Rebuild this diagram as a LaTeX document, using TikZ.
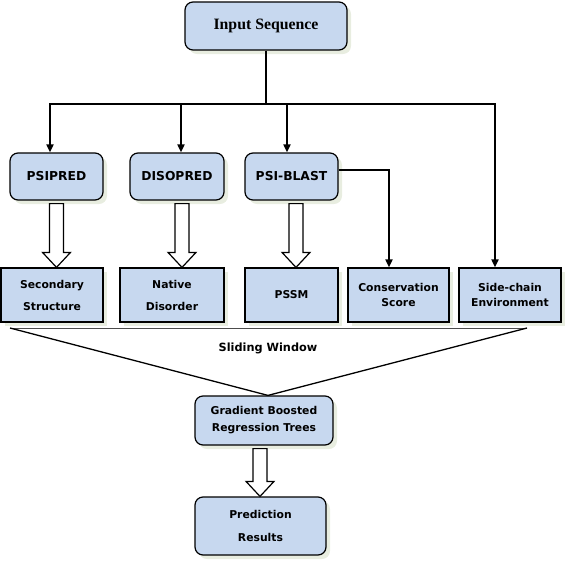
\documentclass[tikz,border=0pt]{standalone}
\usepackage{fontspec}
\setmainfont{DejaVu Sans}
\newfontfamily\titlefont{Liberation Serif}
\usepackage{tikz}
\usetikzlibrary{arrows.meta,positioning,calc,shadows}

\definecolor{boxblue}{RGB}{199,216,239}
\definecolor{shade}{RGB}{232,237,224}

% hollow block arrow from the bottom of one node to the top of another
\newcommand{\fatarrow}[3][0]{%
  \draw[hollow] let \p1=([xshift=#1pt]#2.south), \p2=(#3.north) in
    (\x1-7pt,\y1-3pt) -- (\x1-7pt,\y2+15pt) -- (\x1-14pt,\y2+15pt) -- (\x1,\y2)
    -- (\x1+14pt,\y2+15pt) -- (\x1+7pt,\y2+15pt) -- (\x1+7pt,\y1-3pt) -- cycle;}

\begin{document}
\begin{tikzpicture}[x=1pt, y=-1pt,
    base/.style={rectangle, draw, line width=1.2pt, fill=boxblue, align=center, inner sep=2pt,
      drop shadow={fill=shade, shadow xshift=4pt, shadow yshift=-4pt, opacity=1}},
    tool/.style={base, rounded corners=8pt, font=\bfseries\fontsize{12.3}{14}\selectfont},
    feature/.style={base, font=\bfseries\fontsize{10.8}{15}\selectfont},
    widefeature/.style={feature, font=\bfseries\fontsize{10.8}{22}\selectfont},
    bus/.style={line width=1.8pt},
    arrow/.style={bus, -{Triangle[length=8pt,width=7pt]}},
    hollow/.style={draw, fill=white, line width=1.2pt, line join=miter}
]
    \useasboundingbox (0,0) rectangle (568,563);

    \node[tool, minimum width=162pt, minimum height=48pt, font=\titlefont\bfseries\fontsize{15.8}{18}\selectfont] (input) at (266,26) {Input Sequence};

    \node[tool, minimum width=93pt, minimum height=47pt] (psipred) at (56.5,176.5) {PSIPRED};
    \node[tool, minimum width=94pt, minimum height=47pt] (disopred) at (177,176.5) {DISOPRED};
    \node[tool, minimum width=93pt, minimum height=47pt] (psiblast) at (291.5,176.5) {PSI-BLAST};

    \node[widefeature, minimum width=102pt, minimum height=54pt] (secstr) at (52,295) {Secondary\\Structure};
    \node[widefeature, minimum width=104pt, minimum height=54pt] (disorder) at (172,295) {Native\\Disorder};
    \node[feature, minimum width=93pt, minimum height=54pt] (pssm) at (291.5,295) {PSSM};
    \node[feature, minimum width=101pt, minimum height=54pt] (cons) at (398.5,295) {Conservation\\Score};
    \node[feature, minimum width=102pt, minimum height=54pt] (side) at (510,295) {Side-chain\\Environment};

    \node[tool, minimum width=138pt, minimum height=49pt, font=\bfseries\fontsize{10.8}{17}\selectfont] (gbrt) at (264,420.5) {Gradient Boosted\\Regression Trees};
    \node[tool, minimum width=131pt, minimum height=58pt, font=\bfseries\fontsize{10.8}{23}\selectfont] (result) at (260.5,526) {Prediction\\Results};

    % input sequence fans out to the tools
    \coordinate (bus) at (266,104);
    \draw[bus] (input.south) -- (bus);
    \draw[arrow] (bus) -| ([xshift=-6.5pt]psipred.north);
    \draw[arrow] (bus) -| ([xshift=4pt]disopred.north);
    \draw[arrow] (bus) -| ([xshift=-4.5pt]psiblast.north);
    \draw[arrow] (bus) -| ([xshift=-15pt]side.north);
    \draw[arrow] ([yshift=6.5pt]psiblast.east) -| ([xshift=-9.5pt]cons.north);

    \fatarrow{psipred}{secstr}
    \fatarrow[5]{disopred}{disorder}
    \fatarrow[4.5]{psiblast}{pssm}

    % sliding window
    \coordinate (wl) at (10,328);
    \coordinate (wr) at (527,328);
    \draw[line width=0.6pt, black!70] (wl) -- (wr);
    \draw[line width=1.3pt] (wl) -- ([xshift=4pt]gbrt.north) -- (wr);
    \node[font=\bfseries\fontsize{11.3}{13}\selectfont] (window) at (268,348) {Sliding Window};

    \fatarrow[-4]{gbrt}{result}
\end{tikzpicture}
\end{document}
